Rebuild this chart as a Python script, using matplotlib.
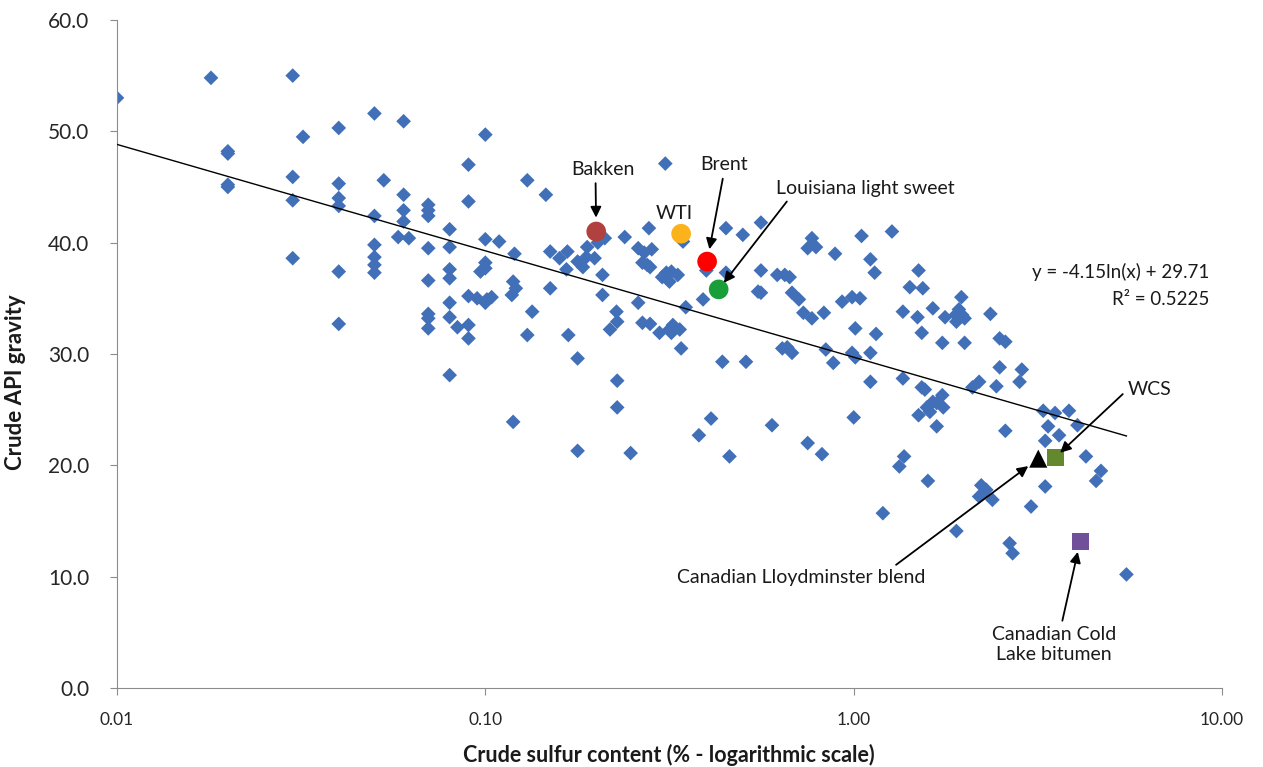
import numpy as np
import matplotlib
matplotlib.use("Agg")
import matplotlib.pyplot as plt
from matplotlib.ticker import FixedLocator, FixedFormatter, NullLocator

# crude assay points (sulfur %, API gravity)
sulfur = [
    0.010, 0.018, 0.020, 0.020, 0.020, 0.020, 0.030, 0.032, 0.030, 0.030,
    0.030, 0.040, 0.040, 0.040, 0.040, 0.040, 0.040, 0.050, 0.053, 0.050,
    0.050, 0.050, 0.050, 0.050, 0.060, 0.060, 0.060, 0.060, 0.058, 0.062,
    0.070, 0.070, 0.070, 0.070, 0.070, 0.070, 0.070, 0.070, 0.080, 0.080,
    0.080, 0.080, 0.080, 0.080, 0.080, 0.084, 0.090, 0.090, 0.090, 0.090,
    0.090, 0.095, 0.100, 0.100, 0.100, 0.097, 0.100, 0.100, 0.104, 0.101,
    0.109, 0.120, 0.119, 0.121, 0.118, 0.130, 0.146, 0.134, 0.130, 0.150,
    0.150, 0.168, 0.178, 0.119, 0.178, 0.159, 0.167, 0.166, 0.178, 0.188,
    0.198, 0.189, 0.202, 0.211, 0.184, 0.208, 0.208, 0.218, 0.228, 0.227,
    0.228, 0.228, 0.239, 0.248, 0.260, 0.270, 0.283, 0.275, 0.267, 0.280,
    0.260, 0.267, 0.280, 0.297, 0.316, 0.323, 0.337, 0.320, 0.340, 0.278,
    0.308, 0.310, 0.302, 0.320, 0.333, 0.316, 0.344, 0.350, 0.390, 0.398,
    0.450, 0.450, 0.500, 0.560, 0.560, 0.620, 0.650, 0.550, 0.560, 0.680,
    0.710, 0.730, 0.770, 0.830, 0.380, 0.410, 0.460, 0.440, 0.510, 0.600,
    0.640, 0.660, 0.680, 0.750, 0.840, 0.880, 0.930, 0.770, 0.790, 0.750,
    0.890, 0.670, 1.05, 1.27, 1.11, 1.14, 0.99, 1.04, 1.01, 1.15,
    0.99, 1.01, 1.11, 1.11, 1.36, 1.49, 1.42, 1.54, 1.50, 1.53,
    1.64, 1.74, 1.77, 1.96, 1.93, 1.97, 1.90, 2.00, 1.89, 2.00,
    2.35, 2.49, 2.58, 2.49, 2.86, 2.82, 1.36, 1.53, 1.56, 1.74,
    2.10, 2.19, 2.44, 1.50, 1.61, 1.58, 1.68, 1.75, 1.64, 1.68,
    1.00, 0.82, 1.37, 1.33, 1.59, 1.20, 2.22, 2.29, 2.19, 2.38,
    1.90, 2.58, 3.03, 3.31, 2.65, 2.70, 3.27, 3.52, 3.84, 3.37,
    3.61, 3.31, 4.05, 4.27, 4.69, 4.55, 5.50,
]
api = [
    53.0, 54.8, 48.2, 48.0, 45.2, 45.0, 55.0, 49.5, 45.9, 43.8,
    38.6, 50.3, 45.3, 44.0, 43.3, 37.4, 32.7, 51.6, 45.6, 42.4,
    39.8, 38.7, 38.0, 37.3, 50.9, 44.3, 42.9, 41.9, 40.5, 40.4,
    43.4, 42.9, 42.4, 39.5, 36.6, 33.6, 33.2, 32.3, 41.2, 39.6,
    37.6, 36.8, 34.6, 33.3, 28.1, 32.4, 47.0, 43.7, 32.6, 31.4,
    35.2, 35.0, 49.7, 40.3, 38.2, 37.4, 37.7, 34.6, 35.1, 34.9,
    40.1, 39.0, 36.5, 35.9, 35.3, 45.6, 44.3, 33.8, 31.7, 39.2,
    35.9, 31.7, 29.6, 23.9, 21.3, 38.6, 39.2, 37.6, 38.3, 38.7,
    38.6, 39.6, 40.0, 40.4, 37.8, 37.1, 35.3, 32.2, 32.9, 33.8,
    27.6, 25.2, 40.5, 21.1, 39.5, 39.1, 39.4, 38.0, 38.2, 37.8,
    34.6, 32.8, 32.7, 31.9, 32.2, 32.6, 32.2, 31.9, 30.5, 41.3,
    47.1, 37.3, 36.9, 37.4, 37.1, 36.5, 40.1, 34.2, 34.9, 37.5,
    37.3, 41.3, 40.7, 41.8, 37.5, 37.1, 37.1, 35.6, 35.5, 35.5,
    34.9, 33.7, 33.2, 33.7, 22.7, 24.2, 20.8, 29.3, 29.3, 23.6,
    30.5, 30.6, 30.1, 22.0, 30.4, 29.2, 34.7, 40.4, 39.6, 39.5,
    39.0, 36.9, 40.6, 41.0, 38.5, 37.3, 35.1, 35.0, 32.3, 31.8,
    30.1, 29.7, 30.1, 27.5, 33.8, 33.3, 36.0, 35.9, 37.5, 31.9,
    34.1, 31.0, 33.3, 35.1, 34.0, 33.5, 32.9, 33.2, 33.5, 31.0,
    33.6, 31.4, 31.1, 28.8, 28.6, 27.5, 27.8, 27.0, 26.8, 26.3,
    27.0, 27.5, 27.1, 24.5, 24.8, 25.2, 25.6, 25.2, 25.7, 23.5,
    24.3, 21.0, 20.8, 19.9, 18.6, 15.7, 18.2, 17.8, 17.2, 16.9,
    14.1, 23.1, 16.3, 18.1, 13.0, 12.1, 24.9, 24.7, 24.9, 23.5,
    22.7, 22.2, 23.6, 20.8, 19.5, 18.6, 10.2,
]

# benchmark crudes
bench_names = ["Bakken", "WTI", "Brent", "Louisiana light sweet",
               "Canadian Lloydminster blend", "WCS", "Canadian Cold\nLake bitumen"]
bench_sulfur = [0.20, 0.34, 0.40, 0.43, 3.17, 3.52, 4.12]
bench_api = [41.0, 40.8, 38.3, 35.8, 20.6, 20.7, 13.2]

# trendline y = a*ln(x) + b
fit_a = -4.15
fit_b = 29.71
fit_r2 = 0.5225

x_ticks = [0.01, 0.1, 1, 10]
x_labels = ["0.01", "0.10", "1.00", "10.00"]
y_ticks = [0, 10, 20, 30, 40, 50, 60]

plt.rcParams['font.family'] = ['Lato', 'DejaVu Sans']

fig = plt.figure(figsize=(12.63, 7.67), dpi=100)
ax = fig.add_axes([0.0926, 0.103, 0.875, 0.871])

ax.scatter(sulfur, api, marker="D", s=56, color="#4170b8", edgecolors="none", zorder=2)

xs = np.logspace(np.log10(0.01), np.log10(5.5), 200)
ax.plot(xs, fit_a * np.log(xs) + fit_b, color="black", lw=1.0, zorder=3)

styles = [
    dict(marker="o", s=200, color="#b0413e"),
    dict(marker="o", s=200, color="#fbb21b"),
    dict(marker="o", s=200, color="#ff0000"),
    dict(marker="o", s=200, color="#1a9e3a"),
    dict(marker="^", s=170, color="black"),
    dict(marker="s", s=150, color="#64882e"),
    dict(marker="s", s=150, color="#70509a"),
]
for xv, yv, st in zip(bench_sulfur, bench_api, styles):
    ax.scatter([xv], [yv], zorder=4, edgecolors="none", **st)

# label positions / arrow anchors
text_pos = [(0.208, 46.6), (0.325, 42.6), (0.444, 47.0), (1.078, 44.9),
            (0.718, 9.9), (6.35, 26.8), (3.49, 3.9)]
relpos = [(0.39, 0.0), None, (0.5, 0.0), (0.08, 0.0), (0.86, 1.0), (0.0, 0.5), (0.56, 1.0)]
shrink = [10, 0, 9, 6, 9, 5, 8]
for name, xv, yv, tp, rp, sh in zip(bench_names, bench_sulfur, bench_api, text_pos, relpos, shrink):
    if rp is None:
        ax.text(tp[0], tp[1], name, ha="center", va="center", fontsize=14, color="#1a1a1a")
        continue
    ax.annotate(name, xy=(xv, yv), xytext=tp, ha="center", va="center",
                fontsize=14, color="#1a1a1a", multialignment="center",
                arrowprops=dict(arrowstyle="-|>", color="black", lw=1.3,
                                mutation_scale=16, relpos=rp,
                                shrinkA=2, shrinkB=sh), zorder=5)

ax.text(9.25, 37.4, f"y = {fit_a}ln(x) + {fit_b}", ha="right", va="center",
        fontsize=13.5, color="#1a1a1a")
ax.text(9.25, 34.9, f"R² = {fit_r2}", ha="right", va="center",
        fontsize=13.5, color="#1a1a1a")

ax.set_xscale("log")
ax.set_xlim(0.01, 10)
ax.set_ylim(0, 60)
ax.xaxis.set_major_locator(FixedLocator(x_ticks))
ax.xaxis.set_major_formatter(FixedFormatter(x_labels))
ax.xaxis.set_minor_locator(NullLocator())
ax.set_yticks(y_ticks)
ax.set_yticklabels([f"{v:.1f}" for v in y_ticks])

for s in ["top", "right"]:
    ax.spines[s].set_visible(False)
for s in ["left", "bottom"]:
    ax.spines[s].set_color("#8c8c8c")
ax.tick_params(axis="both", direction="out", length=5, color="#8c8c8c",
               labelcolor="#262626")
ax.tick_params(axis="y", pad=15, labelsize=15)
ax.tick_params(axis="x", pad=12, labelsize=12.5)

ax.set_xlabel("Crude sulfur content (% - logarithmic scale)", fontsize=15.5,
              fontweight="bold", color="#1a1a1a")
ax.set_ylabel("Crude API gravity", fontsize=16, fontweight="bold", color="#1a1a1a")
ax.xaxis.set_label_coords(0.4995, -0.084)
ax.yaxis.set_label_coords(-0.082, 0.458)

fig.savefig("out.png", dpi=100)
